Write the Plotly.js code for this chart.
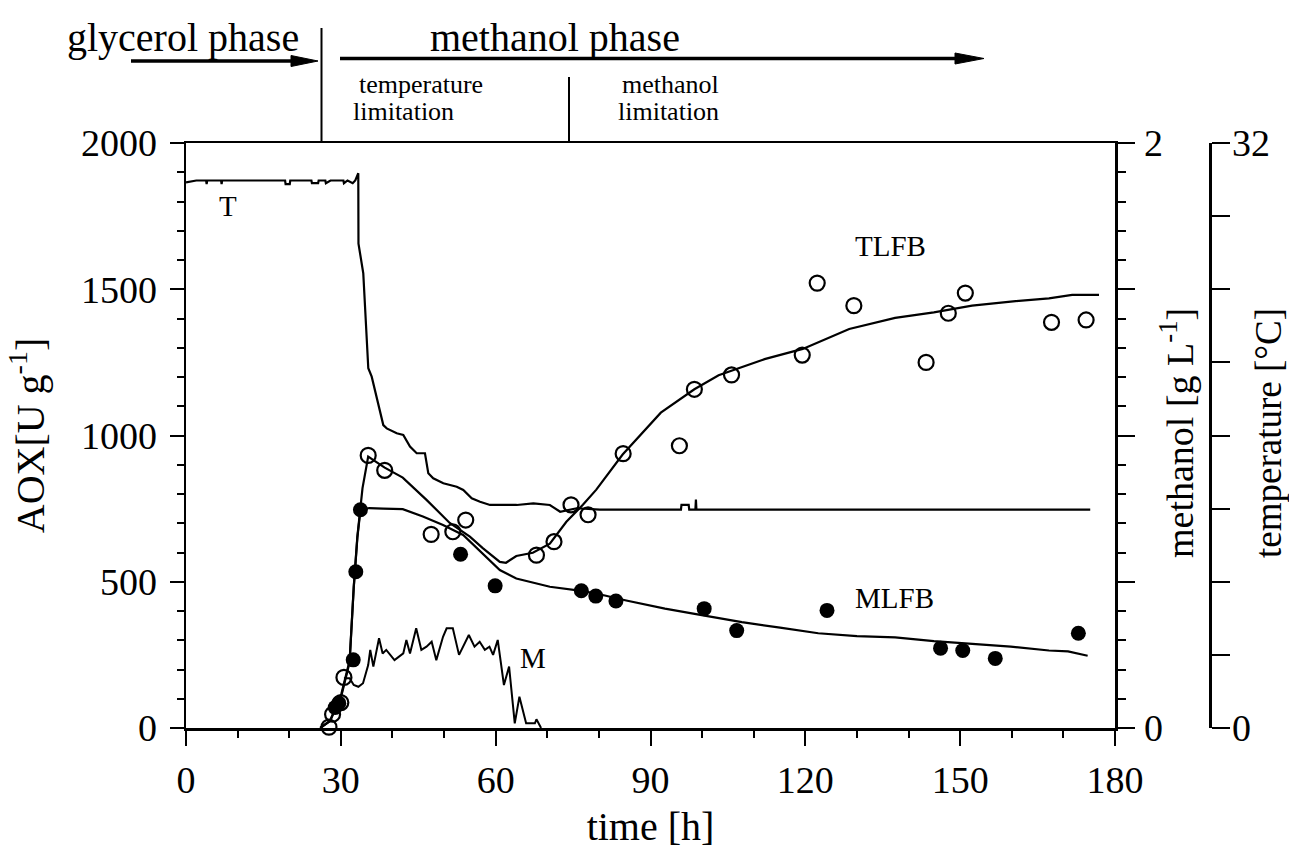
<!DOCTYPE html>
<html>
<head>
<meta charset="utf-8">
<script src="https://cdn.plot.ly/plotly-3.0.1.min.js"></script>
<style>
  html, body { margin: 0; padding: 0; background: #fff; }
  #chart { width: 1289px; height: 861px; }
</style>
</head>
<body>
<div id="chart"></div>
<script>
// ---- Data ----
// TLFB: temperature-limited fed-batch, AOX measurements (open circles)
const tlfbTime = [27.7, 28.4, 30.0, 30.6, 35.3, 38.5, 47.5, 51.7, 54.2, 67.9, 71.3, 74.6, 77.9, 84.7, 95.6, 98.5, 105.7, 119.4, 122.3, 129.4, 143.4, 147.7, 151.0, 167.7, 174.4];
const tlfbAOX  = [3, 47, 87, 173, 932, 881, 662, 671, 711, 591, 637, 763, 729, 938, 965, 1158, 1207, 1275, 1521, 1444, 1250, 1418, 1487, 1387, 1395];

// MLFB: methanol-limited fed-batch, AOX measurements (filled circles)
const mlfbTime = [25.8, 28.9, 29.6, 32.4, 32.9, 33.8, 53.2, 59.9, 76.6, 79.4, 83.3, 100.4, 106.7, 124.2, 146.2, 150.5, 156.8, 172.9];
const mlfbAOX  = [-22, 70, 85, 233, 534, 746, 594, 486, 469, 451, 434, 408, 333, 402, 273, 265, 238, 324];

// Model curves
const tlfbFitTime = [26, 27.9, 30.1, 31.7, 32.5, 33.2, 34.2, 35.3, 38.5, 42, 46.6, 51.1, 55, 57.5, 60.8, 62, 64, 67.2, 70.5, 73.7, 76.9, 79.5, 84.6, 92, 98.5, 103.2, 112.1, 119.5, 128.5, 137.4, 144.9, 152.3, 159.8, 167.2, 171.7, 176.9];
const tlfbFitAOX  = [0, 24, 116, 230, 482, 654, 820, 928, 890, 856, 780, 701, 654, 615, 568, 565, 588, 599, 630, 705, 763, 815, 935, 1078, 1158, 1206, 1261, 1296, 1364, 1402, 1421, 1444, 1458, 1469, 1481, 1481];

const mlfbFitTime = [26, 27.9, 30.1, 31.7, 32.5, 33.2, 33.8, 35.5, 38.2, 42, 45.9, 49.8, 53.7, 57.5, 60.8, 64, 70.5, 76.6, 79.7, 85.3, 92.8, 100.2, 107.7, 115.1, 122.5, 130, 137.4, 144.9, 152.3, 159.8, 167.2, 170.9, 174.7];
const mlfbFitAOX  = [0, 24, 110, 225, 480, 650, 746, 752, 750, 748, 723, 694, 660, 597, 540, 511, 483, 469, 459, 436, 408, 385, 362, 343, 324, 314, 310, 297, 288, 278, 265, 262, 247];

// Methanol concentration M [g/L]
const methTime = [30.6, 31.7, 32.5, 33.4, 34.3, 35.3, 35.7, 36.3, 37.4, 38.1, 38.8, 40.4, 42.1, 42.7, 43.4, 44.6, 45.6, 46.6, 47.6, 48.5, 49.8, 50.5, 51.7, 52.9, 54.8, 55.9, 56.9, 57.9, 58.8, 59.5, 60.4, 61.6, 62.6, 63.7, 64.6, 65.9, 67.6, 67.9, 68.8];
const methConc = [0.17, 0.17, 0.147, 0.141, 0.153, 0.215, 0.267, 0.21, 0.307, 0.255, 0.267, 0.232, 0.255, 0.301, 0.255, 0.341, 0.267, 0.278, 0.295, 0.232, 0.312, 0.341, 0.341, 0.25, 0.318, 0.278, 0.295, 0.267, 0.278, 0.25, 0.301, 0.147, 0.21, 0.016, 0.107, 0.016, 0.016, 0.03, 0.0];

// Temperature T [°C]
const tempTime = [0, 2, 3.9, 4.0, 4.1, 6.8, 6.9, 7.0, 19.2, 19.3, 20.1, 20.2, 24.3, 24.4, 25.6, 25.7, 27.0, 27.1, 28.0, 30.5, 30.6, 31.3, 32.3, 32.8, 33.38, 33.42, 34.35, 34.88, 35.32, 35.98, 36.95, 37.45, 38.23, 38.89, 40.83, 42.1, 43.4, 44.7, 46.3, 46.95, 47.9, 49.86, 52.45, 53.73, 55.36, 56.97, 58.9, 64.08, 67.3, 70.5, 72.5, 75.7, 80.2, 95.9, 96.0, 97.4, 97.5, 98.7, 98.8, 98.9, 175.2];
const tempC    = [29.85, 29.95, 29.95, 29.75, 29.95, 29.95, 29.75, 29.95, 29.95, 29.75, 29.75, 29.95, 29.95, 29.8, 29.8, 29.95, 29.95, 29.8, 29.95, 29.95, 29.8, 29.95, 29.8, 29.95, 30.35, 26.5, 24.87, 21.77, 19.68, 19.22, 18.12, 17.58, 16.57, 16.39, 16.12, 16.03, 15.39, 15.03, 15.03, 13.93, 13.66, 13.39, 13.2, 13.02, 12.56, 12.38, 12.2, 12.2, 12.29, 12.2, 11.83, 12.02, 11.95, 11.95, 12.2, 12.2, 11.95, 11.95, 12.5, 11.95, 11.95];

// Axis tick values
const timeTicks = [0, 30, 60, 90, 120, 150, 180];
const aoxTicks = [0, 500, 1000, 1500, 2000];

// ---- Layout helpers (pixel -> paper) ----
const L = 186, T0 = 143, PW = 1024, PH = 585;
const px = v => (v - L) / PW;
const py = v => (T0 + PH - v) / PH;

const FONT = 'Liberation Serif, Times New Roman, serif';
const black = '#000';

const traces = [
  { x: tlfbFitTime, y: tlfbFitAOX, type: 'scatter', mode: 'lines', name: 'TLFB model',
    line: { color: black, width: 2.2 }, xaxis: 'x', yaxis: 'y', hoverinfo: 'skip' },
  { x: mlfbFitTime, y: mlfbFitAOX, type: 'scatter', mode: 'lines', name: 'MLFB model',
    line: { color: black, width: 2.2 }, xaxis: 'x', yaxis: 'y', hoverinfo: 'skip' },
  { x: methTime, y: methConc, type: 'scatter', mode: 'lines', name: 'M',
    line: { color: black, width: 2 }, xaxis: 'x', yaxis: 'y2' },
  { x: tempTime, y: tempC, type: 'scatter', mode: 'lines', name: 'T',
    line: { color: black, width: 2.2 }, xaxis: 'x', yaxis: 'y3' },
  { x: tlfbTime, y: tlfbAOX, type: 'scatter', mode: 'markers', name: 'TLFB',
    marker: { symbol: 'circle-open', size: 15, color: black, line: { color: black, width: 2.2 } },
    cliponaxis: false, xaxis: 'x', yaxis: 'y' },
  { x: mlfbTime, y: mlfbAOX, type: 'scatter', mode: 'markers', name: 'MLFB',
    marker: { symbol: 'circle', size: 15, color: black },
    cliponaxis: false, xaxis: 'x', yaxis: 'y' }
];

const axisCommon = {
  showline: true, linecolor: black, linewidth: 2.5,
  ticks: 'outside', tickcolor: black, tickwidth: 2,
  showgrid: false, zeroline: false,
  tickfont: { family: FONT, size: 38, color: black }
};

const layout = {
  width: 1289, height: 861,
  margin: { l: L, r: 1289 - L - PW, t: T0, b: 861 - T0 - PH, pad: 0, autoexpand: false },
  paper_bgcolor: '#fff', plot_bgcolor: '#fff',
  showlegend: false,
  font: { family: FONT, color: black },
  xaxis: Object.assign({}, axisCommon, {
    domain: [0, 929 / PW], range: [0, 180], mirror: true,
    tickmode: 'array', tickvals: timeTicks, ticklen: 15,
    minor: { dtick: 10, tick0: 0, ticklen: 7, tickwidth: 2, tickcolor: black, ticks: 'outside' },
    ticklabelstandoff: 2,
    title: { text: 'time [h]', font: { family: FONT, size: 40, color: black }, standoff: 12 }
  }),
  yaxis: Object.assign({}, axisCommon, {
    range: [0, 2000], tickmode: 'array', tickvals: aoxTicks, ticklen: 14,
    minor: { dtick: 100, tick0: 0, ticklen: 7, tickwidth: 2, tickcolor: black, ticks: 'outside' },
    ticklabelstandoff: 5,
    title: { text: 'AOX[U g<sup>-1</sup>]', font: { family: FONT, size: 40, color: black }, standoff: 24 }
  }),
  yaxis2: Object.assign({}, axisCommon, {
    overlaying: 'y', side: 'right', anchor: 'x', range: [0, 2],
    tickmode: 'linear', tick0: 0, dtick: 0.5, ticklen: 17,
    labelalias: { '0.5': ' ', '1': ' ', '1.5': ' ' },
    minor: { dtick: 0.1, tick0: 0, ticklen: 8, tickwidth: 2, tickcolor: black, ticks: 'outside' },
    ticklabelstandoff: 2
  }),
  yaxis3: Object.assign({}, axisCommon, {
    overlaying: 'y', side: 'right', anchor: 'free', position: 1, range: [0, 32],
    tickmode: 'linear', tick0: 0, dtick: 4, ticklen: 18,
    labelalias: { '4': ' ', '8': ' ', '12': ' ', '16': ' ', '20': ' ', '24': ' ', '28': ' ' },
    ticklabelstandoff: -5
  }),
  shapes: [
    // phase boundaries
    { type: 'line', xref: 'paper', yref: 'paper', x0: px(321.5), x1: px(321.5), y0: py(28), y1: py(143),
      line: { color: black, width: 2 } },
    { type: 'line', xref: 'paper', yref: 'paper', x0: px(569), x1: px(569), y0: py(77), y1: py(143),
      line: { color: black, width: 2 } },
    // glycerol phase arrow
    { type: 'line', xref: 'paper', yref: 'paper', x0: px(131), x1: px(296), y0: py(61), y1: py(61),
      line: { color: black, width: 3.5 } },
    { type: 'path', xref: 'paper', yref: 'paper',
      path: `M ${px(291)} ${py(55.5)} L ${px(318)} ${py(61)} L ${px(291)} ${py(66.5)} Z`,
      fillcolor: black, line: { color: black, width: 1 } },
    // methanol phase arrow
    { type: 'line', xref: 'paper', yref: 'paper', x0: px(340), x1: px(960), y0: py(58.5), y1: py(58.5),
      line: { color: black, width: 3.5 } },
    { type: 'path', xref: 'paper', yref: 'paper',
      path: `M ${px(955)} ${py(53)} L ${px(984)} ${py(58.5)} L ${px(955)} ${py(64)} Z`,
      fillcolor: black, line: { color: black, width: 1 } }
  ],
  annotations: [
    { text: 'glycerol phase', xref: 'paper', yref: 'paper', x: px(183), y: py(38), xanchor: 'center', yanchor: 'middle',
      showarrow: false, font: { family: FONT, size: 40, color: black } },
    { text: 'methanol phase', xref: 'paper', yref: 'paper', x: px(555), y: py(38), xanchor: 'center', yanchor: 'middle',
      showarrow: false, font: { family: FONT, size: 40, color: black } },
    { text: 'temperature', xref: 'paper', yref: 'paper', x: px(357), y: py(85), xanchor: 'left', yanchor: 'middle',
      showarrow: false, font: { family: FONT, size: 26, color: black } },
    { text: 'limitation', xref: 'paper', yref: 'paper', x: px(351), y: py(112), xanchor: 'left', yanchor: 'middle',
      showarrow: false, font: { family: FONT, size: 26, color: black } },
    { text: 'methanol', xref: 'paper', yref: 'paper', x: px(620), y: py(85), xanchor: 'left', yanchor: 'middle',
      showarrow: false, font: { family: FONT, size: 26, color: black } },
    { text: 'limitation', xref: 'paper', yref: 'paper', x: px(616), y: py(112), xanchor: 'left', yanchor: 'middle',
      showarrow: false, font: { family: FONT, size: 26, color: black } },
    // curve labels
    { text: 'T', xref: 'paper', yref: 'paper', x: px(228), y: py(206), xanchor: 'center', yanchor: 'middle',
      showarrow: false, font: { family: FONT, size: 29, color: black } },
    { text: 'TLFB', xref: 'paper', yref: 'paper', x: px(890), y: py(246), xanchor: 'center', yanchor: 'middle',
      showarrow: false, font: { family: FONT, size: 29, color: black } },
    { text: 'MLFB', xref: 'paper', yref: 'paper', x: px(894), y: py(598), xanchor: 'center', yanchor: 'middle',
      showarrow: false, font: { family: FONT, size: 29, color: black } },
    { text: 'M', xref: 'paper', yref: 'paper', x: px(533), y: py(658), xanchor: 'center', yanchor: 'middle',
      showarrow: false, font: { family: FONT, size: 29, color: black } },
    // right axis titles
    { text: 'methanol [g L<sup>-1</sup>]', xref: 'paper', yref: 'paper', x: px(1177), y: py(433), xanchor: 'center', yanchor: 'middle',
      textangle: -90, showarrow: false, font: { family: FONT, size: 38, color: black } },
    { text: 'temperature [°C]', xref: 'paper', yref: 'paper', x: px(1268), y: py(433), xanchor: 'center', yanchor: 'middle',
      textangle: -90, showarrow: false, font: { family: FONT, size: 37, color: black } }
  ]
};

Plotly.newPlot('chart', traces, layout, { staticPlot: true, displayModeBar: false });
</script>
</body>
</html>
